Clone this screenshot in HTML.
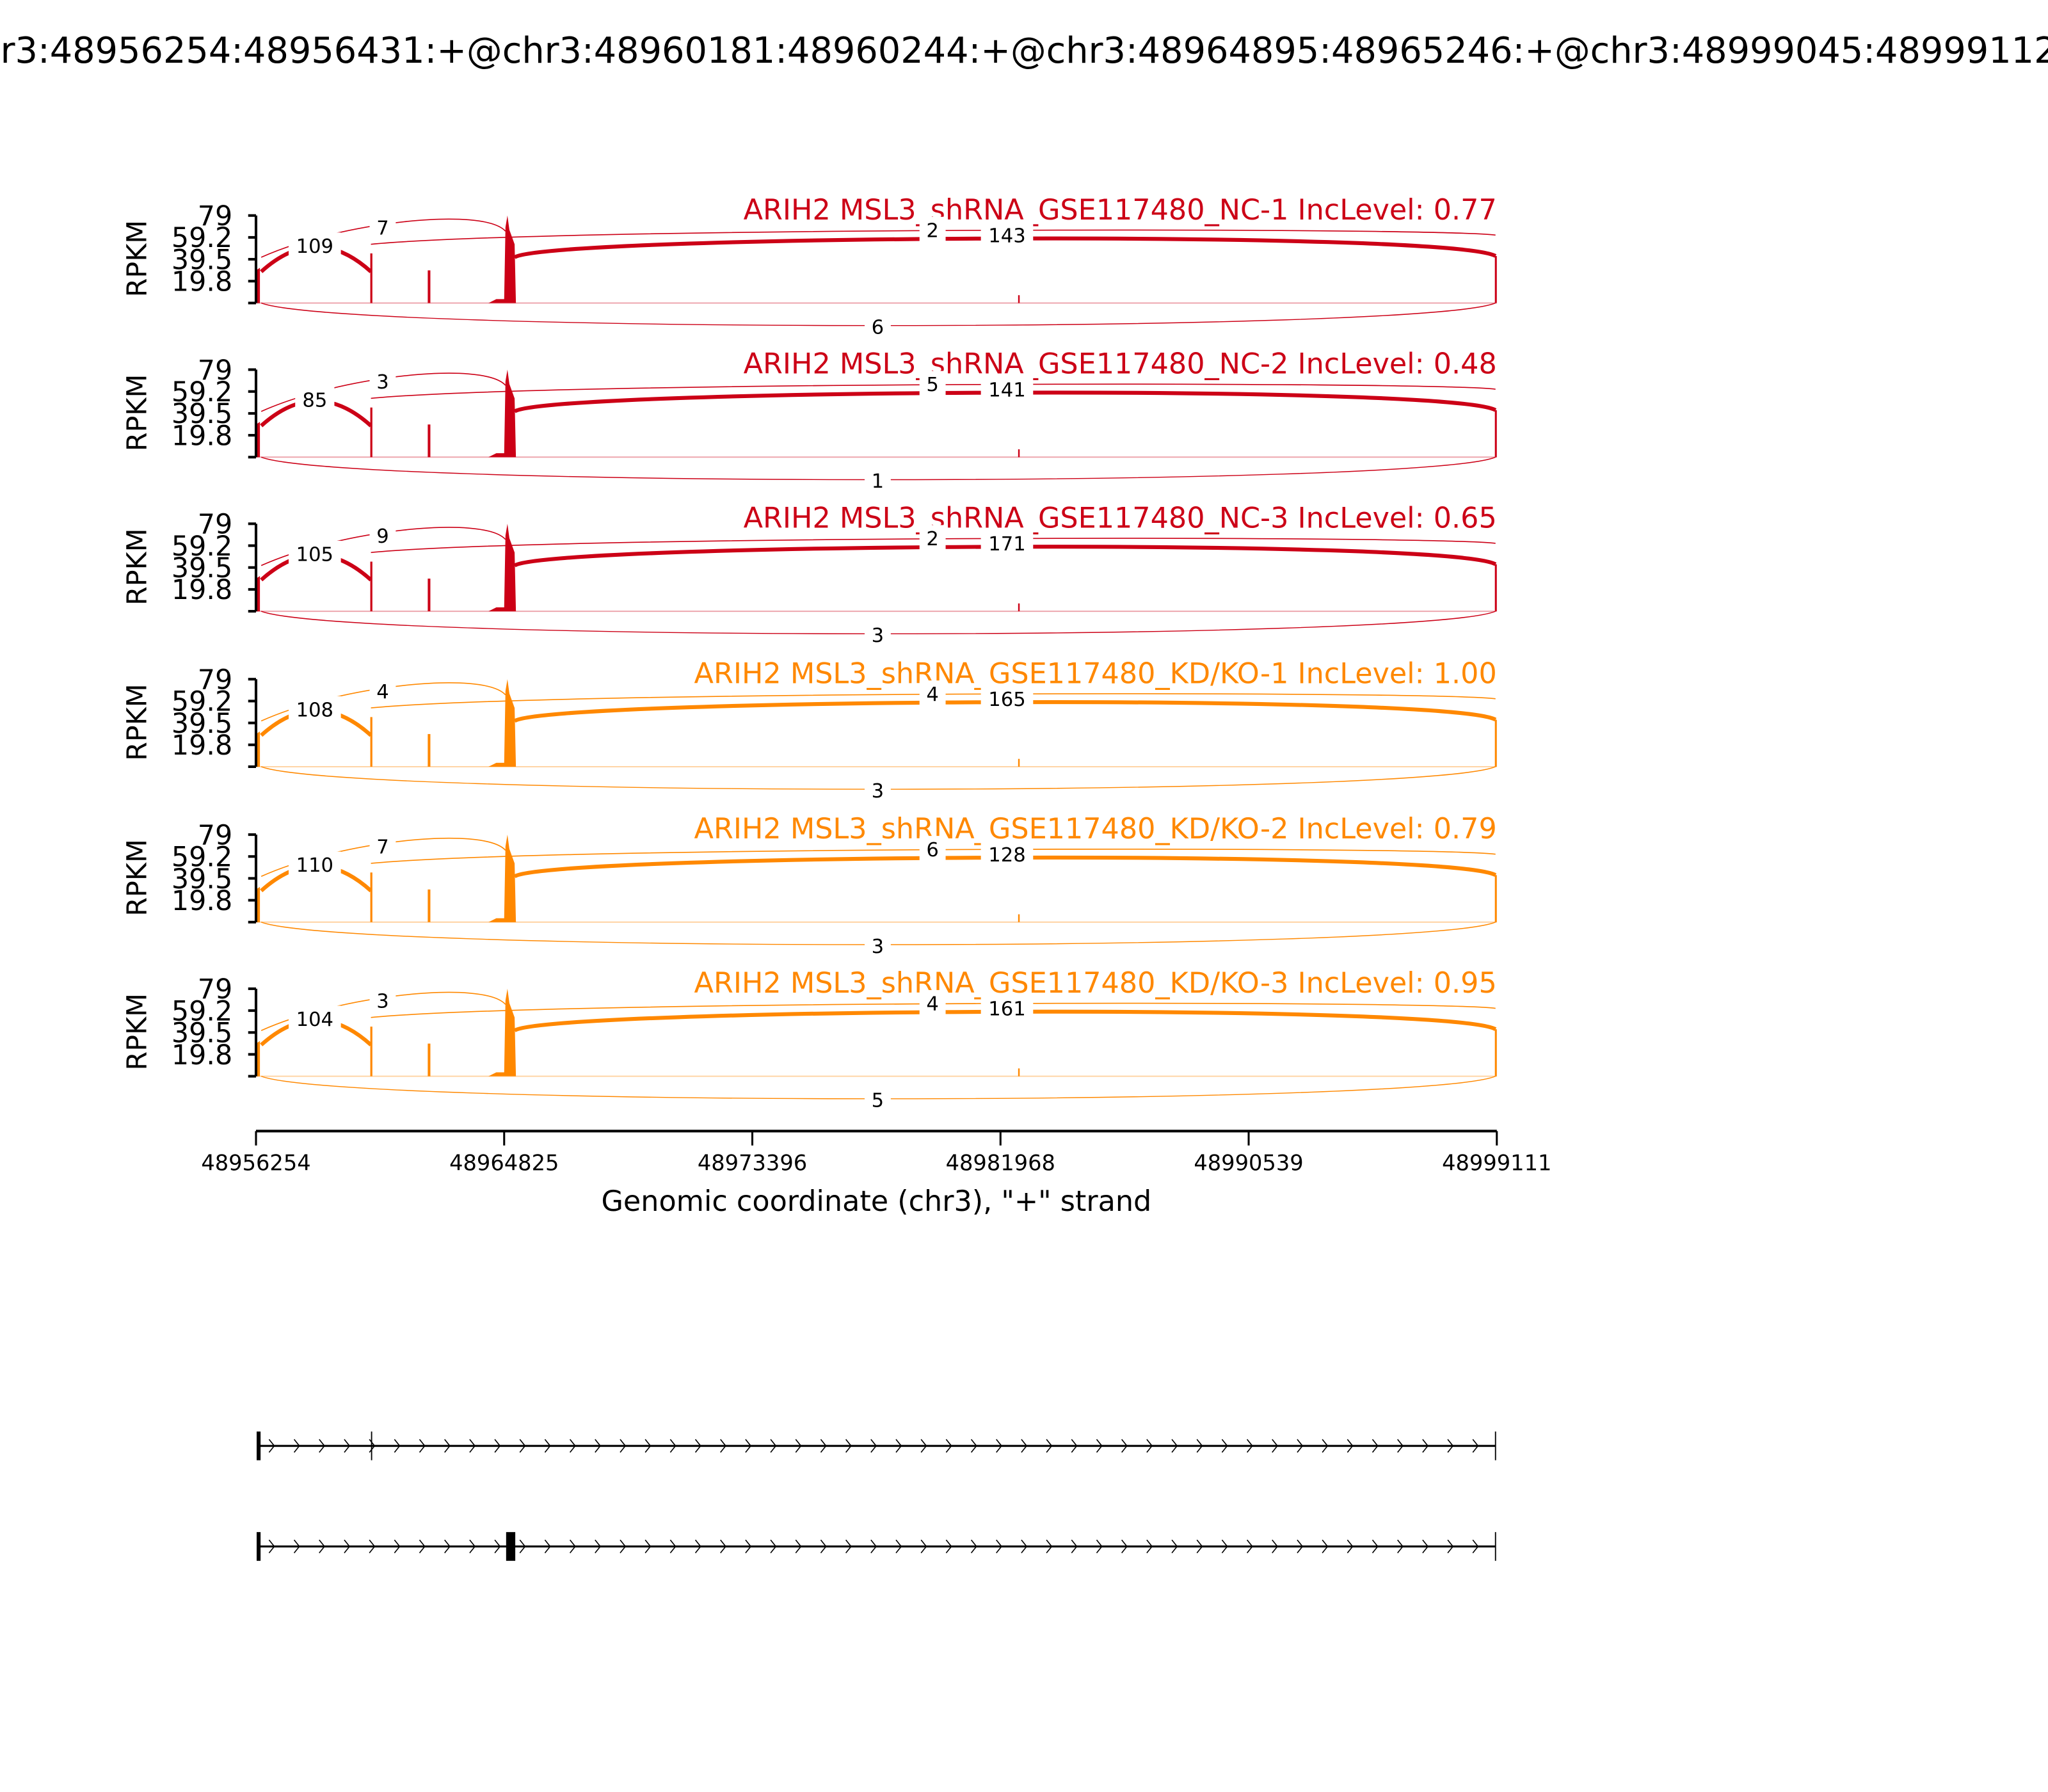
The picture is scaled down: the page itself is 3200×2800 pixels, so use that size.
<!DOCTYPE html>
<html><head><meta charset="utf-8"><style>html,body{margin:0;padding:0;background:#fff;overflow:hidden}svg{display:block}text{font-family:"DejaVu Sans","Liberation Sans",sans-serif}</style></head>
<body>
<svg id="s" width="3200" height="2800" viewBox="0 0 1568 1372" xmlns="http://www.w3.org/2000/svg">
<rect width="1568" height="1372" fill="#fff"/>
<text x="-32" y="48" font-size="27.3" fill="#000">chr3:48956254:48956431:+@chr3:48960181:48960244:+@chr3:48964895:48965246:+@chr3:48999045:48999112:+</text>
<g id="panels"></g>
<!-- x axis -->
<line x1="196" y1="866" x2="1146" y2="866" stroke="#000" stroke-width="2"/>
<g stroke="#000" stroke-width="1.5">
<line x1="196" y1="866" x2="196" y2="877"/><line x1="386" y1="866" x2="386" y2="877"/><line x1="576" y1="866" x2="576" y2="877"/><line x1="766" y1="866" x2="766" y2="877"/><line x1="956" y1="866" x2="956" y2="877"/><line x1="1146" y1="866" x2="1146" y2="877"/>
</g>
<g font-size="16.5" text-anchor="middle">
<text x="196" y="896">48956254</text><text x="386" y="896">48964825</text><text x="576" y="896">48973396</text><text x="766" y="896">48981968</text><text x="956" y="896">48990539</text><text x="1146" y="896">48999111</text>
</g>
<text x="671" y="927" font-size="21.8" text-anchor="middle">Genomic coordinate (chr3), "+" strand</text>
<g id="tracks"></g>
</svg>
<script>
var P=[
["ARIH2 MSL3_shRNA_GSE117480_NC-1 IncLevel: 0.77","#cc0016",[109,7,2,143,6]],
["ARIH2 MSL3_shRNA_GSE117480_NC-2 IncLevel: 0.48","#cc0016",[85,3,5,141,1]],
["ARIH2 MSL3_shRNA_GSE117480_NC-3 IncLevel: 0.65","#cc0016",[105,9,2,171,3]],
["ARIH2 MSL3_shRNA_GSE117480_KD/KO-1 IncLevel: 1.00","#ff8800",[108,4,4,165,3]],
["ARIH2 MSL3_shRNA_GSE117480_KD/KO-2 IncLevel: 0.79","#ff8800",[110,7,6,128,3]],
["ARIH2 MSL3_shRNA_GSE117480_KD/KO-3 IncLevel: 0.95","#ff8800",[104,3,4,161,5]]];
var T=[165,283,401,520,639,757],h='';
function lab(x,y,t){var w=t.length*10+10;return '<rect x="'+(x-w/2)+'" y="'+(y-10)+'" width="'+w+'" height="20" fill="#fff"/><text x="'+x+'" y="'+(y+5.5)+'" font-size="15" text-anchor="middle">'+t+'</text>';}
for(var i=0;i<6;i++){var t=T[i],y=t+67,c=P[i][1],n=P[i][2];
h+='<text x="1146" y="'+(t+3)+'" font-size="21.8" text-anchor="end" fill="'+c+'">'+P[i][0]+'</text>';
h+='<line x1="196" y1="'+y+'" x2="1146" y2="'+y+'" stroke="'+c+'" stroke-opacity="0.35" stroke-width="1"/>';
h+='<path d="M196,'+y+' L196,'+(y-25)+' L199,'+(y-27)+' L199,'+y+'Z" fill="'+c+'"/>';
h+='<rect x="283.5" y="'+(y-38)+'" width="1.6" height="38" fill="'+c+'"/>';
h+='<rect x="327.5" y="'+(y-25)+'" width="2" height="25" fill="'+c+'"/>';
h+='<path d="M374,'+y+' L380,'+(y-3)+' L386,'+(y-3)+' L387,'+(y-58)+' L388.5,'+(y-67)+' L390,'+(y-56)+' L394,'+(y-45)+' L395,'+y+'Z" fill="'+c+'"/>';
h+='<rect x="779.5" y="'+(y-6)+'" width="1.2" height="6" fill="'+c+'"/>';
h+='<path d="M200,'+(y-35)+' C260,'+(y-62)+' 370,'+(y-74)+' 387,'+(y-55)+'" fill="none" stroke="'+c+'" stroke-width="0.8"/>';
h+='<path d="M284,'+(y-45)+' C420,'+(y-58)+' 1100,'+(y-58)+' 1145,'+(y-52)+'" fill="none" stroke="'+c+'" stroke-width="0.8"/>';
h+='<path d="M200,'+(y-24)+' Q242,'+(y-62)+' 284,'+(y-24)+'" fill="none" stroke="'+c+'" stroke-width="3"/>';
h+='<path d="M394,'+(y-35)+' C420,'+(y-52)+' 1110,'+(y-56)+' 1145,'+(y-36)+'" fill="none" stroke="'+c+'" stroke-width="3"/>';
h+='<rect x="1144.5" y="'+(y-36)+'" width="1.5" height="36" fill="'+c+'"/>';
h+='<path d="M200,'+y+' C260,'+(y+23)+' 1090,'+(y+23)+' 1145,'+y+'" fill="none" stroke="'+c+'" stroke-width="0.7"/>';
h+=lab(241,t+23,''+n[0])+lab(293,t+9,''+n[1])+lab(714,t+11,''+n[2])+lab(771,t+15,''+n[3])+lab(672,y+18,''+n[4]);
h+='<line x1="196" y1="'+t+'" x2="196" y2="'+y+'" stroke="#000" stroke-width="2"/>';
var tv=['79','59.2','39.5','19.8',''];
for(var k=0;k<5;k++){var yy=t+k*16.75;h+='<line x1="190" y1="'+yy+'" x2="196" y2="'+yy+'" stroke="#000" stroke-width="2"/>';if(tv[k])h+='<text x="178" y="'+(yy+7.5)+'" font-size="21" text-anchor="end">'+tv[k]+'</text>';}
h+='<text transform="translate(112,'+(t+33)+') rotate(-90)" font-size="21" text-anchor="middle">RPKM</text>';
}
document.getElementById('panels').innerHTML=h;
var g='';
function track(y,ex){g+='<line x1="198" y1="'+y+'" x2="1145" y2="'+y+'" stroke="#000" stroke-width="1.5"/>';
for(var x=206;x<1138;x+=19.2){g+='<path d="M'+x+','+(y-5)+' L'+(x+4)+','+y+' L'+x+','+(y+5)+'" fill="none" stroke="#000" stroke-width="0.8"/>';}
g+='<rect x="196.5" y="'+(y-11)+'" width="3" height="22" fill="#000"/><line x1="1145" y1="'+(y-11)+'" x2="1145" y2="'+(y+11)+'" stroke="#000" stroke-width="0.9"/>';g+=ex;}
track(1107,'<line x1="284.5" y1="1096" x2="284.5" y2="1118" stroke="#000" stroke-width="0.9"/>');
track(1184,'<rect x="387.5" y="1173" width="7" height="22" fill="#000"/>');
document.getElementById('tracks').innerHTML=g;
</script>
</body></html>
